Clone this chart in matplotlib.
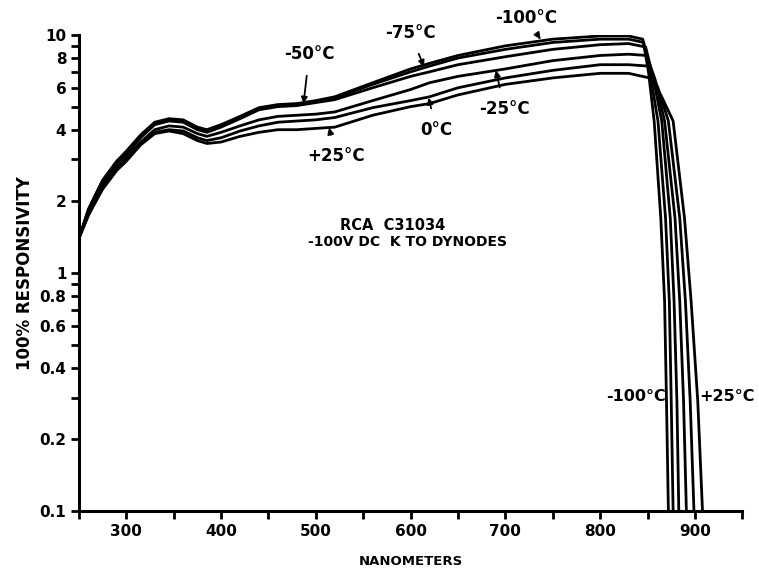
import matplotlib.pyplot as plt
from matplotlib.ticker import FixedLocator, NullFormatter

# common wavelength grid (nm) before the red cutoff
wl = [250, 260, 275, 290, 300, 315, 330, 345, 360, 375, 385, 400, 420, 440, 460, 480,
      500, 520, 560, 600, 620, 650, 700, 750, 800, 830]

temps = ['+25', '0', '-25', '-50', '-75', '-100']

resp = {
    '+25': [1.4, 1.75, 2.25, 2.7, 2.95, 3.45, 3.85, 3.95, 3.85, 3.6, 3.5, 3.55, 3.75, 3.9,
            4.0, 4.0, 4.05, 4.1, 4.6, 5.0, 5.15, 5.6, 6.2, 6.6, 6.9, 6.9],
    '0':   [1.4, 1.75, 2.3, 2.75, 3.0, 3.5, 3.9, 4.0, 3.95, 3.7, 3.6, 3.7, 3.95, 4.15,
            4.3, 4.35, 4.4, 4.5, 4.95, 5.3, 5.5, 6.0, 6.6, 7.1, 7.5, 7.5],
    '-25': [1.4, 1.8, 2.35, 2.8, 3.05, 3.55, 4.0, 4.15, 4.1, 3.85, 3.75, 3.9, 4.15, 4.4,
            4.55, 4.6, 4.65, 4.75, 5.3, 5.9, 6.3, 6.7, 7.2, 7.8, 8.2, 8.3],
    '-50': [1.4, 1.8, 2.4, 2.9, 3.15, 3.7, 4.2, 4.35, 4.3, 4.0, 3.9, 4.1, 4.45, 4.85,
            5.0, 5.05, 5.2, 5.35, 6.0, 6.7, 7.0, 7.5, 8.1, 8.7, 9.1, 9.2],
    '-75': [1.4, 1.85, 2.45, 2.95, 3.2, 3.75, 4.25, 4.4, 4.35, 4.05, 3.95, 4.15, 4.5, 4.9,
            5.05, 5.1, 5.25, 5.45, 6.2, 7.0, 7.4, 8.0, 8.7, 9.3, 9.6, 9.6],
    '-100': [1.4, 1.85, 2.45, 2.95, 3.25, 3.8, 4.3, 4.45, 4.4, 4.1, 4.0, 4.2, 4.55, 4.95,
             5.1, 5.15, 5.3, 5.5, 6.3, 7.2, 7.6, 8.2, 9.0, 9.6, 9.9, 9.9],
}

# long-wavelength cutoff for each temperature
tail_wl = {
    '+25': [852, 864, 877, 889, 896, 903, 908],
    '0':   [851, 861, 872, 884, 890, 895, 899],
    '-25': [849, 858, 868, 879, 884, 888, 891],
    '-50': [848, 856, 865, 874, 878, 881, 883],
    '-75': [846, 853, 861, 869, 873, 875, 877],
    '-100': [845, 851, 857, 864, 868, 870, 872],
}
tail_val = {
    '+25': [6.6, 5.6, 4.35, 1.7, 0.76, 0.29, 0.1],
    '0':   [7.4, 6.0, 4.35, 1.7, 0.76, 0.29, 0.1],
    '-25': [8.2, 6.5, 4.35, 1.7, 0.76, 0.29, 0.1],
    '-50': [8.9, 6.6, 4.35, 1.7, 0.76, 0.29, 0.1],
    '-75': [9.3, 6.8, 4.35, 1.7, 0.76, 0.29, 0.1],
    '-100': [9.6, 7.0, 4.35, 1.7, 0.76, 0.29, 0.1],
}

# curve labels: text position, arrow tip
labels = {
    '-50': ((493, 8.3), (487, 5.15)),
    '-75': ((600, 10.2), (614, 7.35)),
    '-100': ((722, 11.8), (737, 9.6)),
    '-25': ((699, 4.9), (690, 7.1)),
    '0': ((627, 4.0), (619, 5.45)),
    '+25': ((521, 3.1), (514, 4.08)),
}

plt.rcParams['font.family'] = 'DejaVu Sans'
plt.rcParams['font.weight'] = 'bold'

fig = plt.figure(figsize=(7.59, 5.73), dpi=100)
ax = fig.add_axes([0.104, 0.108, 0.874, 0.831])

for t in temps:
    x = wl + tail_wl[t]
    y = resp[t] + tail_val[t]
    ax.plot(x, y, color='black', lw=2.0, solid_joinstyle='round')

ax.set_yscale('log')
ax.set_xlim(250, 950)
ax.set_ylim(0.1, 10)

for side in ['top', 'right']:
    ax.spines[side].set_visible(False)
for side in ['left', 'bottom']:
    ax.spines[side].set_linewidth(2.2)

ax.xaxis.set_major_locator(FixedLocator([300, 400, 500, 600, 700, 800, 900]))
ax.xaxis.set_minor_locator(FixedLocator([250, 350, 450, 550, 650, 750, 850, 950]))
ax.yaxis.set_major_locator(FixedLocator([0.1, 0.2, 0.4, 0.6, 0.8, 1, 2, 4, 6, 8, 10]))
ax.set_yticklabels(['0.1', '0.2', '0.4', '0.6', '0.8', '1', '2', '4', '6', '8', '10'])
ax.yaxis.set_minor_locator(FixedLocator([0.3, 0.5, 0.7, 0.9, 3, 5, 7, 9]))
ax.yaxis.set_minor_formatter(NullFormatter())
ax.tick_params(which='both', direction='out', length=6, width=2, labelsize=11, pad=3)

ax.set_xlabel('NANOMETERS', fontsize=9.5, fontweight='bold', labelpad=12)
ax.set_ylabel('100% RESPONSIVITY', fontsize=12, fontweight='bold', labelpad=4)

ax.text(581, 1.59, 'RCA  C31034', ha='center', va='center', fontsize=10.5, fontweight='bold')
ax.text(597, 1.35, '-100V DC  K TO DYNODES', ha='center', va='center', fontsize=10, fontweight='bold')

for t, (txt, tip) in labels.items():
    ax.annotate(t + '°C', xy=tip, xytext=txt, ha='center', va='center',
                fontsize=12, fontweight='bold',
                arrowprops=dict(arrowstyle='-|>', color='black', lw=1.3,
                                mutation_scale=9, shrinkA=7, shrinkB=0))

ax.text(869.5, 0.304, '-100°C', ha='right', va='center', fontsize=11.5, fontweight='bold')
ax.text(905, 0.304, '+25°C', ha='left', va='center', fontsize=11.5, fontweight='bold')

fig.savefig('out.png', dpi=100)
